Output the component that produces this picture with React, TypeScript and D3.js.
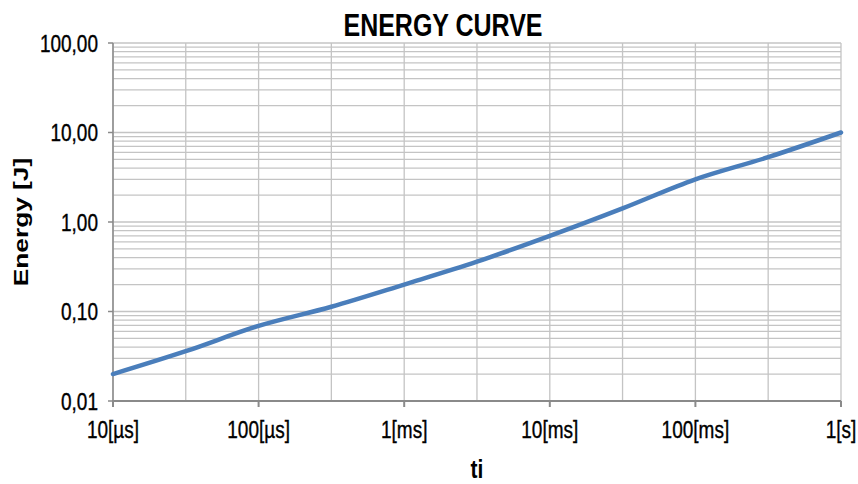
import React from "react";
import * as d3 from "d3";

// ---- data ----
const times = [0.00001, 0.0000316, 0.0001, 0.000316, 0.001, 0.00316, 0.01, 0.0316, 0.1, 0.316, 1];
const energy = [0.02, 0.036, 0.069, 0.113, 0.2, 0.36, 0.7, 1.42, 3.0, 5.3, 10];

const xTickValues = [0.00001, 0.0001, 0.001, 0.01, 0.1, 1];
const xTickLabels = ["10[µs]", "100[µs]", "1[ms]", "10[ms]", "100[ms]", "1[s]"];
const xGridValues = [0.00001, 0.0000316, 0.0001, 0.000316, 0.001, 0.00316, 0.01, 0.0316, 0.1, 0.316, 1];

const yTickValues = [0.01, 0.1, 1, 10, 100];
const yTickLabels = ["0,01", "0,10", "1,00", "10,00", "100,00"];

const title = "ENERGY CURVE";
const xTitle = "ti";
const yTitle = "Energy [J]";

const W = 858;
const H = 484;
const L = 113, R = 841, T = 43, B = 401;
const STRETCH = 1.25;
const FONT = "'Liberation Sans', Arial, sans-serif";

export default function App() {
  const x = d3.scaleLog().domain([0.00001, 1]).range([L, R]);
  const y = d3.scaleLog().domain([0.01, 100]).range([B, T]);

  const yGrid: number[] = [];
  for (let e = -2; e < 2; e++) {
    for (let m = 1; m <= 9; m++) yGrid.push(m * Math.pow(10, e));
  }
  yGrid.push(100);

  const pts = times.map((t, i) => [x(t), y(energy[i])] as [number, number]);
  const line = d3.line().curve(d3.curveCatmullRom.alpha(0.5))(pts) || "";

  const gridColor = "#c4c4c4";
  const axisColor = "#8a8a8a";

  return (
    <svg width={W} height={H} style={{ position: "absolute", left: 0, top: 0, background: "#fff" }}>
      <rect x={0} y={0} width={W} height={H} fill="#fff" />
      {yGrid.map((v, i) => (
        <line key={"h" + i} x1={L} x2={R} y1={y(v)} y2={y(v)} stroke={gridColor} strokeWidth={1.3} />
      ))}
      {xGridValues.map((v, i) => (
        <line key={"v" + i} x1={x(v)} x2={x(v)} y1={T} y2={B} stroke={gridColor} strokeWidth={1.3} />
      ))}
      <line x1={L} x2={L} y1={T} y2={B} stroke={axisColor} strokeWidth={1.5} />
      <line x1={L - 1} x2={R} y1={B} y2={B} stroke={axisColor} strokeWidth={2} />
      {yTickValues.map((v, i) => (
        <line key={"yt" + i} x1={L - 5} x2={L} y1={y(v)} y2={y(v)} stroke={axisColor} strokeWidth={1.5} />
      ))}
      {xTickValues.map((v, i) => (
        <line key={"xt" + i} x1={x(v)} x2={x(v)} y1={B} y2={B + 6} stroke={axisColor} strokeWidth={2} />
      ))}
      <path d={line} fill="none" stroke="#4a7ebb" strokeWidth={4.5} strokeLinecap="round" />
      {yTickValues.map((v, i) => (
        <text
          key={"yl" + i}
          transform={`translate(${L - 15},${y(v) + 8.5}) scale(1,${STRETCH})`}
          textAnchor="end"
          fontFamily={FONT}
          fontSize={19}
          fill="#000"
          stroke="#000"
          strokeWidth={0.3}
        >
          {yTickLabels[i]}
        </text>
      ))}
      {xTickValues.map((v, i) => (
        <text
          key={"xl" + i}
          transform={`translate(${x(v)},${438}) scale(1,${STRETCH})`}
          textAnchor="middle"
          fontFamily={FONT}
          fontSize={19}
          fill="#000"
          stroke="#000"
          strokeWidth={0.3}
        >
          {xTickLabels[i]}
        </text>
      ))}
      <text
        transform={`translate(443,36) scale(1,${STRETCH})`}
        textAnchor="middle"
        fontFamily={FONT}
        fontSize={25}
        fontWeight="bold"
        fill="#000"
      >
        {title}
      </text>
      <text
        transform={`translate(${(L + R) / 2},478) scale(1,${STRETCH})`}
        textAnchor="middle"
        fontFamily={FONT}
        fontSize={21}
        fontWeight="bold"
        fill="#000"
      >
        {xTitle}
      </text>
      <text
        transform={`translate(28,${(T + B) / 2}) rotate(-90) scale(${STRETCH},1)`}
        textAnchor="middle"
        fontFamily={FONT}
        fontSize={21}
        fontWeight="bold"
        fill="#000"
      >
        {yTitle}
      </text>
    </svg>
  );
}
